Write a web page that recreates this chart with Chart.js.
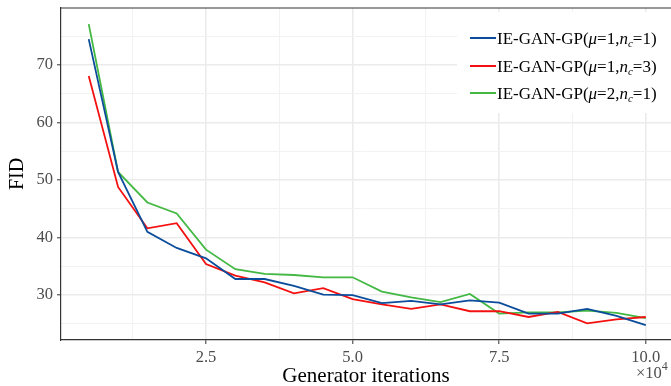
<!DOCTYPE html>
<html>
<head>
<meta charset="utf-8">
<script src="https://cdn.jsdelivr.net/npm/chart.js@4/dist/chart.umd.min.js"></script>
<style>
  html, body { margin: 0; padding: 0; background: #fff; }
  #wrap { width: 671px; height: 386px; }
</style>
</head>
<body>
<div id="wrap"><canvas id="fidChart" width="671" height="386"></canvas></div>
<script>
// Generator iterations (x10^4)
const iterations = [0.5, 1, 1.5, 2, 2.5, 3, 3.5, 4, 4.5, 5, 5.5, 6, 6.5, 7, 7.5, 8, 8.5, 9, 9.5, 10];

// FID per run
const fidMu1Nc1 = [74.5, 51.4, 41.0, 38.2, 36.4, 32.8, 32.8, 31.6, 30.1, 30.0, 28.6, 29.0, 28.4, 29.1, 28.7, 26.8, 26.8, 27.6, 26.4, 24.8];
const fidMu1Nc3 = [68.1, 48.8, 41.6, 42.5, 35.4, 33.4, 32.2, 30.3, 31.2, 29.3, 28.4, 27.6, 28.4, 27.2, 27.2, 26.2, 27.1, 25.1, 25.8, 26.2];
const fidMu2Nc1 = [77.1, 51.4, 46.1, 44.2, 37.9, 34.5, 33.7, 33.5, 33.1, 33.1, 30.6, 29.6, 28.8, 30.2, 26.8, 27.0, 27.0, 27.3, 26.9, 26.0];

// legend entries: [mu, nc]
const seriesParams = [["1", "1"], ["1", "3"], ["2", "1"]];
const seriesColors = ["#0b4d9b", "#f41010", "#43b843"];

// tick positions (major ones get labels)
const xTicks = [1.25, 2.5, 3.75, 5, 6.25, 7.5, 8.75, 10];
const xLabels = { 2.5: "2.5", 5: "5.0", 7.5: "7.5", 10: "10.0" };
const yTicks = [25, 30, 35, 40, 45, 50, 55, 60, 65, 70, 75];
const yLabels = { 30: "30", 40: "40", 50: "50", 60: "60", 70: "70" };

const serif = "'Liberation Serif', 'Times New Roman', serif";
const tickGray = "#4d4d4d";

function toPoints(ys) {
  return ys.map((y, i) => ({ x: iterations[i], y: y }));
}

const series = [fidMu1Nc1, fidMu1Nc3, fidMu2Nc1];

const datasets = series.map((ys, i) => ({
  label: "IE-GAN-GP(mu=" + seriesParams[i][0] + ",nc=" + seriesParams[i][1] + ")",
  data: toPoints(ys),
  borderColor: seriesColors[i],
  backgroundColor: seriesColors[i],
  borderWidth: 1.8,
  pointRadius: 0,
  tension: 0,
  fill: false
}));

// Legend with italic mu and subscript c, drawn on a white box
const legendPlugin = {
  id: "fidLegend",
  beforeDatasetsDraw(chart) {
    const ctx = chart.ctx;
    const area = chart.chartArea;
    ctx.save();
    ctx.fillStyle = "#fff";
    ctx.fillRect(457, 12, 214, 101);
    // top panel border
    ctx.strokeStyle = "#333";
    ctx.lineWidth = 1.2;
    ctx.beginPath();
    ctx.moveTo(area.left, area.top);
    ctx.lineTo(area.right, area.top);
    ctx.stroke();
    ctx.restore();
  },
  afterDraw(chart) {
    const ctx = chart.ctx;
    ctx.save();
    const rowY = [38, 66, 93];
    seriesParams.forEach((p, i) => {
      const y = rowY[i];
      ctx.strokeStyle = seriesColors[i];
      ctx.lineWidth = 2;
      ctx.beginPath();
      ctx.moveTo(470, y);
      ctx.lineTo(496, y);
      ctx.stroke();

      ctx.fillStyle = "#000";
      ctx.textBaseline = "alphabetic";
      const base = y + 6;
      let x = 497;
      const put = (txt, font, dy) => {
        ctx.font = font;
        ctx.fillText(txt, x, base + (dy || 0));
        x += ctx.measureText(txt).width;
      };
      put("IE-GAN-GP(", "17px " + serif);
      put("\u03bc", "italic 17px " + serif);
      put("=" + p[0] + ",", "17px " + serif);
      put("n", "italic 17px " + serif);
      put("c", "italic 11px " + serif, 3);
      put("=" + p[1] + ")", "17px " + serif);
    });

    // x-axis multiplier
    ctx.fillStyle = tickGray;
    ctx.font = "16.5px " + serif;
    ctx.fillText("\u00d710", 636, 378);
    const w = ctx.measureText("\u00d710").width;
    ctx.font = "12px " + serif;
    ctx.fillText("4", 636 + w, 370);
    ctx.restore();
  }
};

new Chart(document.getElementById("fidChart"), {
  type: "line",
  data: { datasets: datasets },
  plugins: [legendPlugin],
  options: {
    responsive: false,
    animation: false,
    layout: { padding: 0 },
    plugins: {
      legend: { display: false },
      tooltip: { enabled: false }
    },
    scales: {
      x: {
        type: "linear",
        min: 0.027,
        max: 10.43,
        afterBuildTicks: (scale) => { scale.ticks = xTicks.map(v => ({ value: v })); },
        afterFit: (scale) => { scale.height = 46; scale.paddingLeft = 0; scale.paddingRight = 0; },
        grid: {
          color: (c) => (xLabels[c.tick && c.tick.value] ? "#ebebeb" : "#f2f2f2"),
          lineWidth: (c) => (xLabels[c.tick && c.tick.value] ? 1.6 : 1),
          tickColor: (c) => (xLabels[c.tick && c.tick.value] ? "#333" : "rgba(0,0,0,0)"),
          tickLength: 4,
          tickWidth: 1
        },
        border: { display: true, color: "#333", width: 1.2 },
        ticks: {
          autoSkip: false,
          maxRotation: 0,
          padding: 4,
          color: tickGray,
          font: { family: serif, size: 16.5 },
          callback: (v) => xLabels[v] || ""
        },
        title: {
          display: true,
          text: "Generator iterations",
          color: "#000",
          font: { family: serif, size: 21, lineHeight: 0.86 },
          padding: { top: 0, bottom: 0 }
        }
      },
      y: {
        type: "linear",
        min: 22.2,
        max: 79.9,
        afterBuildTicks: (scale) => { scale.ticks = yTicks.map(v => ({ value: v })); },
        afterFit: (scale) => { scale.width = 61; scale.paddingTop = 8; scale.paddingBottom = 0; },
        grid: {
          color: (c) => (yLabels[c.tick && c.tick.value] ? "#ebebeb" : "#f2f2f2"),
          lineWidth: (c) => (yLabels[c.tick && c.tick.value] ? 1.6 : 1),
          tickColor: (c) => (yLabels[c.tick && c.tick.value] ? "#333" : "rgba(0,0,0,0)"),
          tickLength: 4,
          tickWidth: 1
        },
        border: { display: true, color: "#333", width: 1.2 },
        ticks: {
          autoSkip: false,
          padding: 4,
          color: tickGray,
          font: { family: serif, size: 16.5 },
          callback: (v) => yLabels[v] || ""
        },
        title: {
          display: true,
          text: "FID",
          color: "#000",
          font: { family: serif, size: 20 },
          padding: { top: 6, bottom: 0 }
        }
      }
    }
  }
});
</script>
</body>
</html>
